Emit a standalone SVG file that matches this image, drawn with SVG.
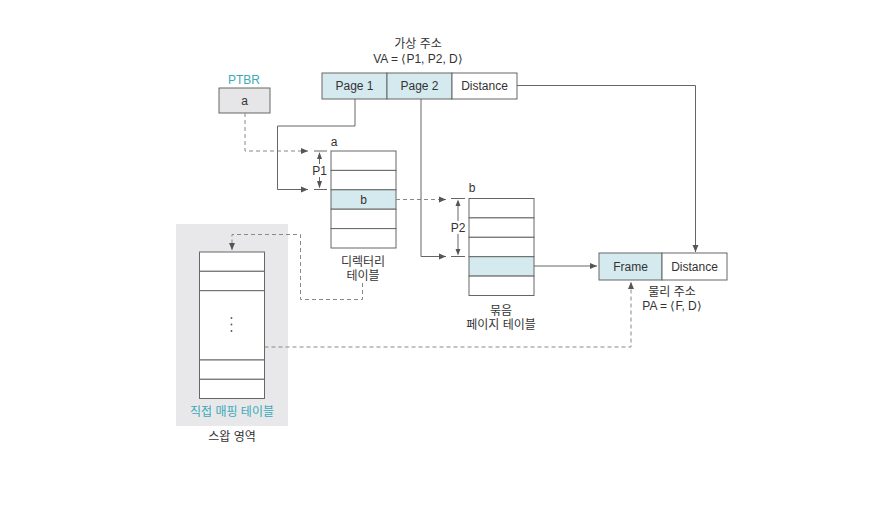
<svg xmlns="http://www.w3.org/2000/svg" width="875" height="527" viewBox="0 0 875 527">
<style>
text{font-family:"Liberation Sans","Noto Sans CJK KR",sans-serif;font-size:12px;fill:#333;text-anchor:middle}
.teal{fill:#3aa9b9}
.box{fill:#fff;stroke:#666;stroke-width:1}
.blue{fill:#d4eaef;stroke:#666;stroke-width:1}
.gray{fill:#e6e6e8;stroke:#666;stroke-width:1}
.ln{fill:none;stroke:#666;stroke-width:1}
.dash{fill:none;stroke:#888;stroke-width:1;stroke-dasharray:4,3}
</style>
<defs>
<marker id="ah" markerWidth="8" markerHeight="8" refX="7" refY="4" orient="auto" markerUnits="userSpaceOnUse">
<path d="M0,1 L7,4 L0,7 Z" fill="#555"/>
</marker>
</defs>
<rect width="875" height="527" fill="#fff"/>

<g id="swap-area">
<rect x="176" y="224" width="112" height="202" fill="#e8e8ea"/>
<text x="232" y="441">스왑 영역</text>
</g>

<g id="va">
<text x="418" y="48">가상 주소</text>
<text x="418" y="63">VA = ⟨P1, P2, D⟩</text>
<rect class="blue" x="322" y="73" width="65" height="26"/>
<rect class="blue" x="387" y="73" width="65" height="26"/>
<rect class="box" x="452" y="73" width="65" height="26"/>
<text x="354.5" y="90">Page 1</text>
<text x="419.5" y="90">Page 2</text>
<text x="484.5" y="90">Distance</text>
</g>

<g id="ptbr">
<text class="teal" x="244" y="84">PTBR</text>
<rect class="gray" x="219" y="88" width="51" height="25"/>
<text x="244.5" y="105">a</text>
</g>

<g id="directory-table">
<text x="334" y="146">a</text>
<rect class="box" x="331" y="151" width="65" height="19.4"/>
<rect class="box" x="331" y="170.4" width="65" height="19.4"/>
<rect class="blue" x="331" y="189.8" width="65" height="19.4"/>
<rect class="box" x="331" y="209.2" width="65" height="19.4"/>
<rect class="box" x="331" y="228.6" width="65" height="19.4"/>
<text x="363.5" y="204">b</text>
<text x="363" y="266">디렉터리</text>
<text x="363" y="280">테이블</text>
</g>

<g id="page-table">
<text x="472" y="192">b</text>
<rect class="box" x="469" y="198.5" width="65" height="19.4"/>
<rect class="box" x="469" y="217.9" width="65" height="19.4"/>
<rect class="box" x="469" y="237.3" width="65" height="19.4"/>
<rect class="blue" x="469" y="256.7" width="65" height="19.4"/>
<rect class="box" x="469" y="276.1" width="65" height="19.4"/>
<text x="501" y="315">묶음</text>
<text x="501" y="329">페이지 테이블</text>
</g>

<g id="pa">
<rect class="blue" x="599" y="253" width="63" height="27"/>
<rect class="box" x="662" y="253" width="65" height="27"/>
<text x="630.5" y="271">Frame</text>
<text x="694.5" y="271">Distance</text>
<text x="672" y="296">물리 주소</text>
<text x="672" y="310">PA = ⟨F, D⟩</text>
</g>

<g id="direct-mapping-table">
<rect class="box" x="199.5" y="252" width="65" height="19.3"/>
<rect class="box" x="199.5" y="271.3" width="65" height="19.4"/>
<rect class="box" x="199.5" y="290.7" width="65" height="69.3"/>
<rect class="box" x="199.5" y="360" width="65" height="19.3"/>
<rect class="box" x="199.5" y="379.3" width="65" height="19.2"/>
<circle cx="231.5" cy="318" r="0.9" fill="#555"/>
<circle cx="231.5" cy="324.5" r="0.9" fill="#555"/>
<circle cx="231.5" cy="331" r="0.9" fill="#555"/>
<text class="teal" x="232" y="416">직접 매핑 테이블</text>
</g>

<g id="connectors">
<path class="dash" d="M245,113 V151 H308" marker-end="url(#ah)"/>
<path class="ln" d="M355,99 V126 H277.5 V189.5 H308" marker-end="url(#ah)"/>
<path class="ln" d="M314,151 H327 M314,189.5 H327"/>
<path class="ln" d="M319.5,159 V181" />
<path d="M319.5,152 L317,159 L322,159 Z M319.5,188.5 L317,181 L322,181 Z" fill="#555"/>
<rect x="312" y="164" width="15" height="13" fill="#fff"/>
<text x="319.5" y="175">P1</text>

<path class="dash" d="M396,199.5 H446" marker-end="url(#ah)"/>
<path class="ln" d="M421,99 V256.5 H446" marker-end="url(#ah)"/>
<path class="ln" d="M451,198.5 H465 M451,256.5 H465"/>
<path class="ln" d="M458,206 V249"/>
<path d="M458,199.5 L455.5,206 L460.5,206 Z M458,255.5 L455.5,249 L460.5,249 Z" fill="#555"/>
<rect x="450" y="221" width="16" height="13" fill="#fff"/>
<text x="458" y="232">P2</text>

<path class="ln" d="M534,266 H597" marker-end="url(#ah)"/>
<path class="ln" d="M517,85.5 H695.5 V252" marker-end="url(#ah)"/>
<path class="dash" d="M264.5,347 H631 V282" marker-end="url(#ah)"/>
<path class="dash" d="M362.5,283 V299.5 H300.5 V234.5 H232 V250" marker-end="url(#ah)"/>
</g>
</svg>
